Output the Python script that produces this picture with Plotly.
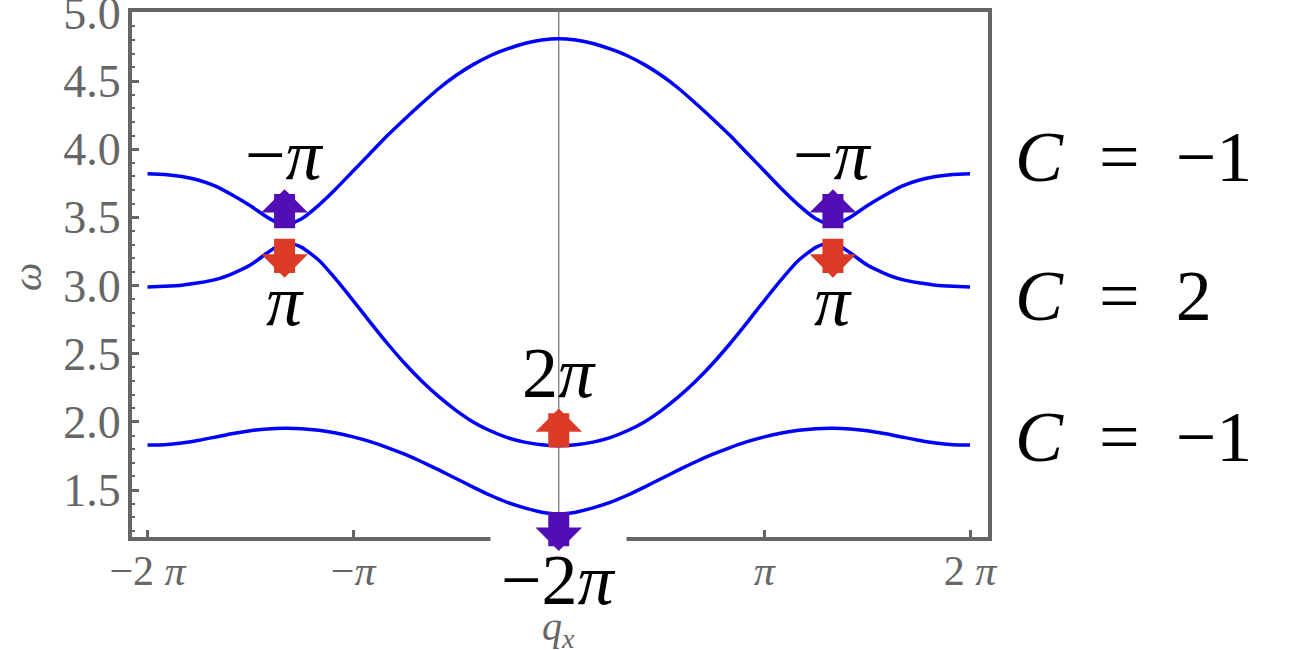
"""
Band structure omega(q_x) with Chern numbers and Berry-phase markers (Plotly)
"""
import numpy as np
import plotly.graph_objects as go

# q_x grid in units of pi (-2pi .. 2pi, step pi/12)
q_over_pi = np.linspace(-2, 2, 49)

band_top = [3.82, 3.815, 3.80, 3.772, 3.727, 3.66, 3.585, 3.50, 3.44, 3.49, 3.59, 3.71,
            3.84, 3.97, 4.10, 4.22, 4.335, 4.445, 4.54, 4.62, 4.685, 4.735, 4.775, 4.80,
            4.81,
            4.80, 4.775, 4.735, 4.685, 4.62, 4.54, 4.445, 4.335, 4.22, 4.10, 3.97, 3.84,
            3.71, 3.59, 3.49, 3.44, 3.50, 3.585, 3.66, 3.727, 3.772, 3.80, 3.815, 3.82]
band_mid = [2.99, 2.995, 3.003, 3.02, 3.045, 3.09, 3.15, 3.24, 3.32, 3.28, 3.185, 3.045,
            2.89, 2.73, 2.575, 2.43, 2.30, 2.185, 2.085, 2.0, 1.935, 1.885, 1.852, 1.832,
            1.825,
            1.832, 1.852, 1.885, 1.935, 2.0, 2.085, 2.185, 2.30, 2.43, 2.575, 2.73, 2.89,
            3.045, 3.185, 3.28, 3.32, 3.24, 3.15, 3.09, 3.045, 3.02, 3.003, 2.995, 2.99]
band_low = [1.83, 1.833, 1.845, 1.865, 1.89, 1.915, 1.935, 1.948, 1.953, 1.95, 1.938, 1.918,
            1.89, 1.855, 1.812, 1.763, 1.708, 1.648, 1.585, 1.522, 1.462, 1.41, 1.37, 1.338,
            1.325,
            1.338, 1.37, 1.41, 1.462, 1.522, 1.585, 1.648, 1.708, 1.763, 1.812, 1.855, 1.89,
            1.918, 1.938, 1.95, 1.953, 1.948, 1.935, 1.915, 1.89, 1.865, 1.845, 1.833, 1.83]

# Berry phase markers: position (units of pi), arrow base omega, direction, label
marker_q = [-4 / 3, -4 / 3, 4 / 3, 4 / 3, 0, 0]
marker_omega = [3.42, 3.344, 3.42, 3.344, 1.812, 1.34]
marker_up = [True, False, True, False, True, False]
marker_label = ["−<i>π</i>", "<i>π</i>", "−<i>π</i>", "<i>π</i>", "2<i>π</i>", "−2<i>π</i>"]

chern_label = ["<i>C</i>\u2002=\u2002−1", "<i>C</i>\u2002=\u20022", "<i>C</i>\u2002=\u2002−1"]
chern_omega = [3.94, 2.92, 1.89]

xtick_pi = [-2, -1, 1, 2]
xtick_text = ["−2 <i>π</i>", "−<i>π</i>", "<i>π</i>", "2 <i>π</i>"]

PURPLE = "#520DB5"
RED = "#DB3B26"
GRAY = "#666666"
SERIF = "Liberation Serif, Times New Roman, serif"

x = q_over_pi * np.pi

fig = go.Figure()
for band in [band_top, band_mid, band_low]:
    fig.add_trace(go.Scatter(
        x=x, y=band, mode='lines',
        line=dict(color='#0000FF', width=3.5, shape='spline', smoothing=0.5),
        showlegend=False, hoverinfo='skip'
    ))

fig.add_vline(x=0, line=dict(color='#707070', width=1.2), layer='below')

annotations = []

# phase labels (the -2pi one sits on a white box that breaks the bottom frame)
label_shift = [73, -62, 73, -62, 75, -68]
for q, w, lab, sh in zip(marker_q, marker_omega, marker_label, label_shift):
    boxed = lab.startswith("−2")
    annotations.append(dict(
        x=q * np.pi, y=w, xref='x', yref='y', text=lab, showarrow=False,
        yshift=sh, xanchor='center', yanchor='middle',
        font=dict(family=SERIF, size=72, color='black'),
        bgcolor='white' if boxed else 'rgba(0,0,0,0)',
        borderpad=10 if boxed else 0
    ))

for lab, w in zip(chern_label, chern_omega):
    annotations.append(dict(
        x=1.029, y=w, xref='paper', yref='y', text=lab, showarrow=False,
        xanchor='left', yanchor='middle',
        font=dict(family=SERIF, size=72, color='black')
    ))

# axis titles
annotations.append(dict(
    x=-0.1227, y=0.495, xref='paper', yref='paper', text="<i>ω</i>", showarrow=False,
    textangle=-90, xanchor='center', yanchor='middle',
    font=dict(family=SERIF, size=40, color=GRAY)
))
annotations.append(dict(
    x=0.4985, y=-0.175, xref='paper', yref='paper', text="<i>q</i><sub><i>x</i></sub>",
    showarrow=False, xanchor='center', yanchor='middle',
    font=dict(family=SERIF, size=40, color=GRAY)
))

# fat arrows, drawn last so they sit on top of the label box
for q, w, up in zip(marker_q, marker_omega, marker_up):
    color = PURPLE if up == (abs(q) > 0) else RED
    annotations.append(dict(
        x=q * np.pi, y=w, xref='x', yref='y', text='', showarrow=True,
        ax=0, ay=-39 if up else 39, arrowside='start', startarrowhead=1,
        startarrowsize=0.37, arrowwidth=21, arrowcolor=color,
        font=dict(size=1), borderpad=0, borderwidth=0
    ))

fig.update_layout(
    width=1296, height=650,
    margin=dict(l=132, r=308, t=12, b=113),
    plot_bgcolor='white', paper_bgcolor='white',
    annotations=annotations,
    showlegend=False
)
fig.update_xaxes(
    range=[-2.0754 * np.pi, 2.0875 * np.pi], automargin=False,
    tickvals=[t * np.pi for t in xtick_pi], ticktext=xtick_text,
    ticks='inside', ticklen=7, tickwidth=3, tickcolor=GRAY,
    showline=True, linewidth=4, linecolor=GRAY, mirror=True,
    showgrid=False, zeroline=False, ticklabelstandoff=-6,
    tickfont=dict(family=SERIF, size=42, color=GRAY)
)
fig.update_yaxes(
    range=[1.156, 5.006], automargin=False, tick0=1.5, dtick=0.5, tickformat='.1f',
    ticks='inside', ticklen=7, tickwidth=3, tickcolor=GRAY,
    minor=dict(dtick=0.1, ticks='inside', ticklen=3, tickwidth=2, tickcolor=GRAY),
    showline=True, linewidth=4, linecolor=GRAY, mirror=True,
    showgrid=False, zeroline=False, ticklabelstandoff=-2, ticklabeloverflow='allow',
    tickfont=dict(family=SERIF, size=46, color=GRAY)
)

# page body has a default 8px margin; drop it so the figure sits at the window corner
fig.write_html("out.html", config={'displayModeBar': False},
               post_script="document.body.style.margin='0px';")
